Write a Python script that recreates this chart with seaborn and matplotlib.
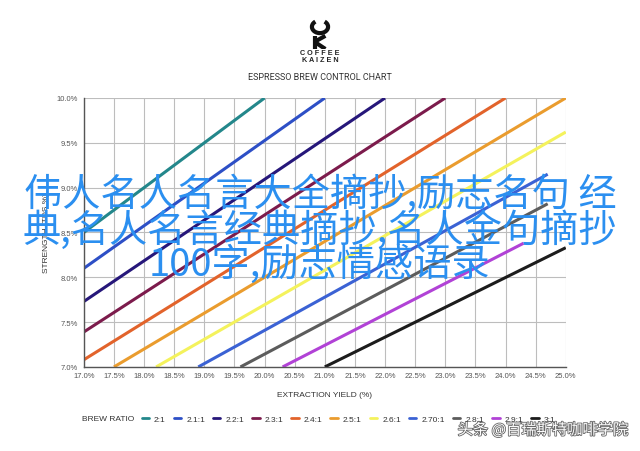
import pandas as pd
import matplotlib
matplotlib.use("Agg")
import matplotlib.pyplot as plt
import matplotlib.patheffects as pe
from matplotlib.patches import Arc
from matplotlib.lines import Line2D
import seaborn as sns

# --- data ---
ratios = ['2:1', '2.1:1', '2.2:1', '2.3:1', '2.4:1', '2.5:1',
          '2.6:1', '2.70:1', '2.8:1', '2.9:1', '3:1']
start_ey = [17.0, 17.0, 17.0, 17.0, 17.0, 17.5, 18.2, 18.9, 19.6, 20.3, 21.0]
start_tds = [8.5, 8.1, 7.73, 7.39, 7.08, 7.0, 7.0, 7.0, 7.0, 7.0, 7.0]
end_ey = [20.0, 21.0, 22.0, 23.0, 24.0, 25.0, 25.0, 24.7, 24.7, 24.3, 25.0]
end_tds = [10.0, 10.0, 10.0, 10.0, 10.0, 10.0, 9.62, 9.15, 8.82, 8.38, 8.33]
colors = ['#23878b', '#2d4fc6', '#26177a', '#7c1b4c', '#e2632b', '#ea9c2e',
          '#f4f25c', '#3b62d4', '#5c5c5c', '#b142d6', '#1c1c1c']

x_ticks = [17.0 + 0.5 * i for i in range(17)]
y_ticks = [7.0 + 0.5 * i for i in range(7)]

watermark = ['伟人名人名言大全摘抄,励志名句 经',
             '典,名人名言经典摘抄,名人金句摘抄',
             '100字,励志情感语录']

rows = []
for r, x0, y0, x1, y1 in zip(ratios, start_ey, start_tds, end_ey, end_tds):
    rows.append({'ratio': r, 'ey': x0, 'tds': y0, 'pt': 0})
    rows.append({'ratio': r, 'ey': x1, 'tds': y1, 'pt': 1})
df = pd.DataFrame(rows)

sns.set_theme(style="white")
plt.rcParams['font.family'] = ['Liberation Sans', 'DejaVu Sans']

fig = plt.figure(figsize=(6.4, 4.52), dpi=100)
ax = fig.add_axes([0.131, 0.186, 0.753, 0.595])

sns.lineplot(data=df, x='ey', y='tds', hue='ratio', palette=colors,
             hue_order=ratios, sort=False, linewidth=2.2, legend=False, ax=ax,
             solid_capstyle='butt')

ax.set_xlim(17, 25)
ax.set_ylim(7, 10)
ax.set_xticks(x_ticks)
ax.set_yticks(y_ticks)
ax.set_xticklabels([f'{v:.1f}%' for v in x_ticks])
ax.set_yticklabels([f'{v:.1f}%' for v in y_ticks])
ax.tick_params(axis='both', labelsize=5.5, colors='#555555', length=0, pad=4)
ax.grid(True, color='#bdbdbd', linewidth=0.8)
ax.set_axisbelow(True)
for s in ['top', 'right']:
    ax.spines[s].set_visible(False)
for s in ['left', 'bottom']:
    ax.spines[s].set_color('#555555')
    ax.spines[s].set_linewidth(1.0)
ax.set_xlabel('EXTRACTION YIELD (%)', fontsize=6, color='#333333', labelpad=8)
ax.set_ylabel('STRENGTH (TDS %)', fontsize=6, color='#333333', labelpad=5)

# legend row
fig.text(82 / 640, 1 - 420 / 452, 'BREW RATIO', fontsize=6, color='#333333',
         va='center', ha='left')
handles = [Line2D([], [], color=c, lw=2) for c in colors]
fig.legend(handles, ratios, loc='center left', ncol=len(ratios),
           bbox_to_anchor=(134 / 640, 1 - 420 / 452), frameon=False,
           fontsize=6, handlelength=0.9, handletextpad=0.6, columnspacing=0.95,
           labelcolor='#333333')

# header: logo and title
fig.text(0.5, 1 - 78 / 452, 'ESPRESSO BREW CONTROL CHART', ha='center',
         va='center', fontsize=6.5, color='#333333', family=['Roboto', 'DejaVu Sans'])
fig.text(0.5, 1 - 57 / 452, 'C O F F E E\nK A I Z E N', ha='center', va='center',
         fontsize=5.2, fontweight='bold', color='#222222', linespacing=0.95)
logo = fig.add_axes([0.47, 1 - 50 / 452, 0.06, 30 / 452])
logo.set_xlim(0, 1)
logo.set_ylim(0, 1)
logo.axis('off')
logo.add_patch(Arc((0.5, 0.74), 0.42, 0.42, theta1=-235, theta2=55,
                   color='#111111', lw=3.0))
logo.plot([0.36, 0.36], [0.0, 0.44], color='#111111', lw=3.0,
          solid_capstyle='butt')
logo.plot([0.36, 0.64], [0.24, 0.44], color='#111111', lw=3.0,
          solid_capstyle='butt')
logo.plot([0.38, 0.64], [0.22, 0.0], color='#111111', lw=3.0,
          solid_capstyle='butt')

# overlaid watermark text
wm_y = [195, 231, 265]
for line, yy in zip(watermark, wm_y):
    fig.text(0.5, 1 - yy / 452, line, ha='center', va='center', fontsize=27.5,
             color='#2b8ff0', family=['Noto Sans CJK SC', 'DejaVu Sans'])

fig.text(628 / 640, 1 - 431 / 452, '头条 @百瑞斯特咖啡学院', ha='right',
         va='center', fontsize=11, color='white',
         family=['Noto Sans CJK SC', 'DejaVu Sans'],
         path_effects=[pe.withStroke(linewidth=1.2, foreground='#666666')])

fig.savefig('out.png', dpi=100, facecolor='white')
